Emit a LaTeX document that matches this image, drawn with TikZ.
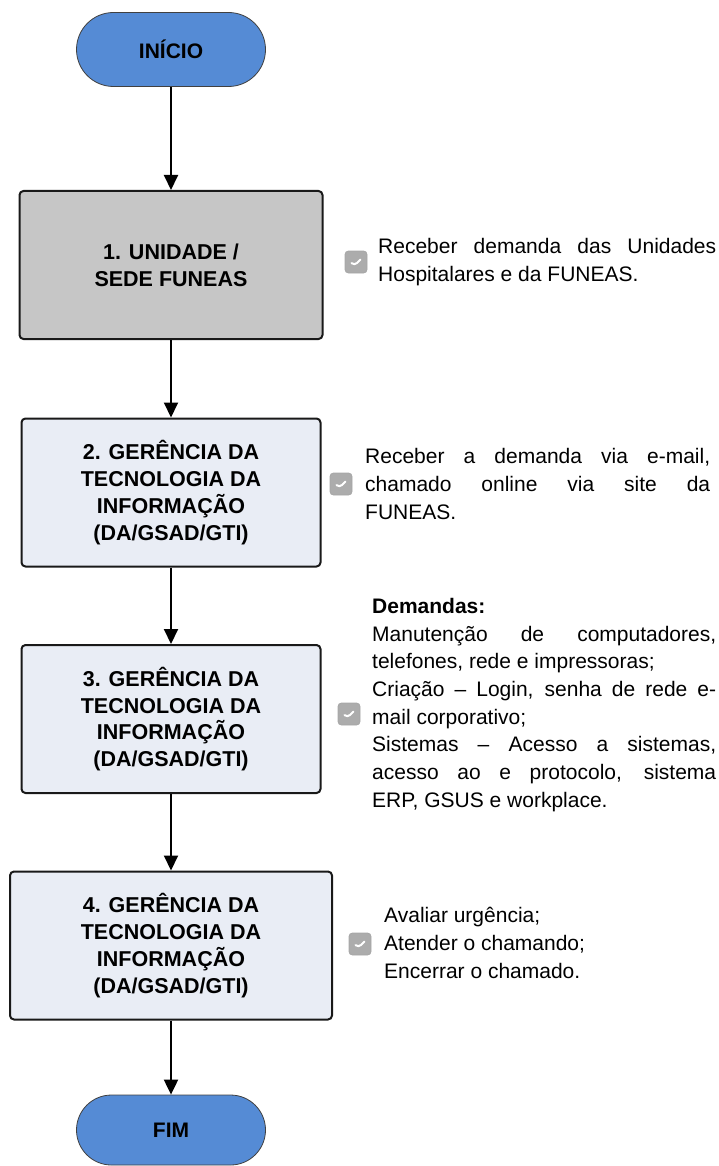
\documentclass[tikz,border=0pt]{standalone}
\usepackage{fontspec}
\setmainfont{Liberation Sans}
\usepackage{tikz}
\usetikzlibrary{arrows.meta}

\definecolor{termblue}{RGB}{85,139,213}
\definecolor{unitgray}{RGB}{198,198,198}
\definecolor{stepfill}{RGB}{233,237,245}
\definecolor{tickgray}{RGB}{172,172,172}

\begin{document}
\begin{tikzpicture}[x=1pt, y=-1pt,
    term/.style={draw=black!75, fill=termblue, line width=0.8pt,
      rounded corners=37pt, minimum width=189pt, minimum height=74pt,
      font=\fontsize{21}{26}\selectfont\bfseries},
    stepbox/.style={draw=black!90, fill=stepfill, line width=2pt,
      rounded corners=4pt, minimum width=299pt, minimum height=148pt,
      align=center, font=\fontsize{21.5}{26.8}\selectfont\bfseries},
    tickbox/.style={draw=black!35, fill=tickgray, line width=0.8pt,
      rounded corners=3.5pt, minimum size=22pt, inner sep=0pt,
      path picture={\draw[white, line width=2pt, line cap=round]
        ([shift={(-4.5,1)}]path picture bounding box.center)
        -- ([shift={(-1.5,3.5)}]path picture bounding box.center)
        -- ([shift={(4.5,-2.5)}]path picture bounding box.center);}},
    note/.style={anchor=west, inner sep=0pt, align=justify,
      font=\fontsize{21}{27.7}\selectfont},
    flow/.style={line width=2pt, -{Triangle[length=15pt,width=14pt]}}]
  \useasboundingbox (0,0) rectangle (719,1166);

  % flow column
  \node[term] (inicio) at (171,49.5) {INÍCIO};
  \node[stepbox, fill=unitgray, minimum width=303pt] (unidade) at (171,265) {1. UNIDADE /\\SEDE FUNEAS};
  \node[stepbox] (gti2) at (171,492.5) {2. GERÊNCIA DA\\TECNOLOGIA DA\\INFORMAÇÃO\\(DA/GSAD/GTI)};
  \node[stepbox] (gti3) at (171,719) {3. GERÊNCIA DA\\TECNOLOGIA DA\\INFORMAÇÃO\\(DA/GSAD/GTI)};
  \node[stepbox, minimum width=322pt] (gti4) at (171,945.5) {4. GERÊNCIA DA\\TECNOLOGIA DA\\INFORMAÇÃO\\(DA/GSAD/GTI)};
  \node[term, minimum height=70pt, rounded corners=35pt] (fim) at (171,1130) {FIM};

  \draw[flow] (inicio) -- (unidade);
  \draw[flow] (unidade) -- (gti2);
  \draw[flow] (gti2) -- (gti3);
  \draw[flow] (gti3) -- (gti4);
  \draw[flow] (gti4) -- (fim);

  % tasks
  \node[tickbox] (tick1) at (356,262) {};
  \node[note, text width=338pt] (task1) at (378,262)
    {Receber demanda das Unidades\linebreak Hospitalares e da FUNEAS.};

  \node[tickbox] (tick2) at (341,484) {};
  \node[note, text width=345pt] (task2) at (365,484)
    {Receber a demanda via e-mail,\linebreak chamado online via site da\linebreak FUNEAS.};

  \node[tickbox] (tick3) at (349,714) {};
  \node[note, text width=344pt] (task3) at (372,705)
    {\textbf{Demandas:}\par
     Manutenção de computadores,\linebreak telefones, rede e impressoras;\par
     Criação – Login, senha de rede e-\linebreak mail corporativo;\par
     Sistemas – Acesso a sistemas,\linebreak acesso ao e protocolo, sistema\linebreak ERP, GSUS e workplace.};

  \node[tickbox] (tick4) at (360,944) {};
  \node[note, align=left] (task4) at (384,943)
    {Avaliar urgência;\\Atender o chamando;\\Encerrar o chamado.};
\end{tikzpicture}
\end{document}
